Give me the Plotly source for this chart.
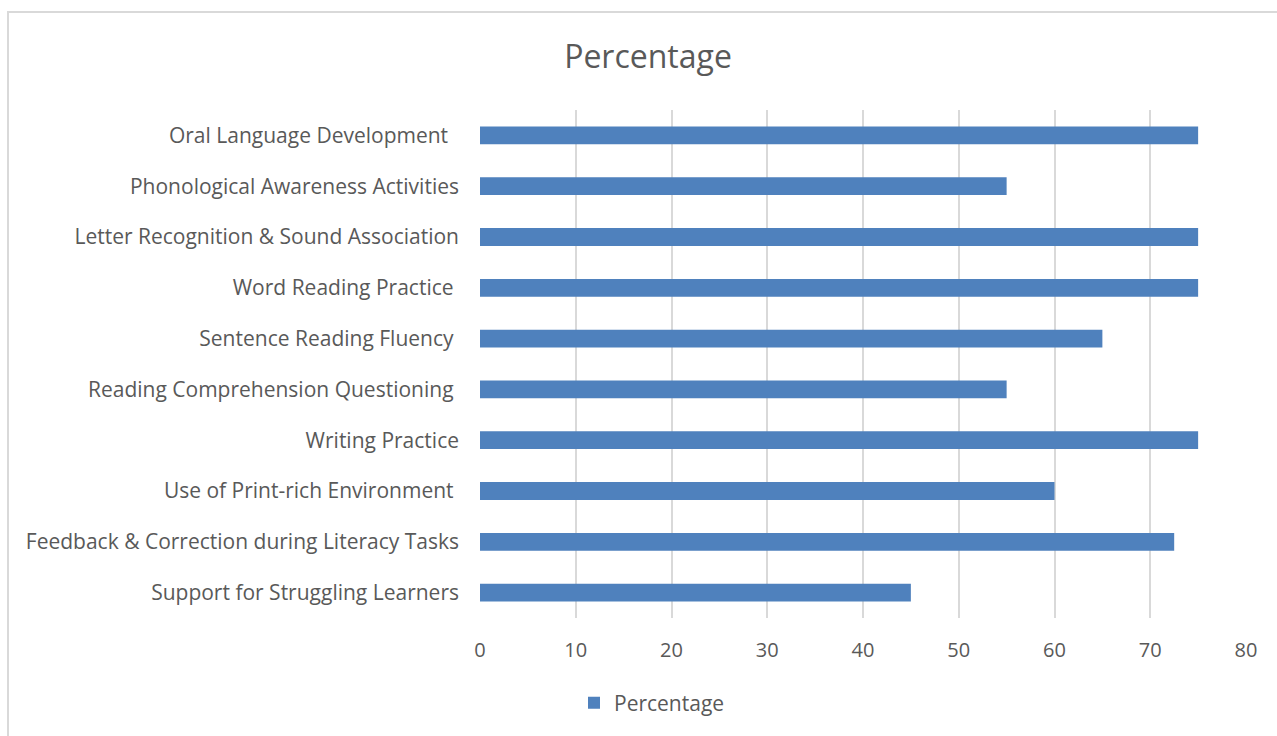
import plotly.graph_objects as go

categories = [
    "Oral Language Development\u00a0\u00a0",
    "Phonological Awareness Activities",
    "Letter Recognition & Sound Association",
    "Word Reading Practice\u00a0",
    "Sentence Reading Fluency\u00a0",
    "Reading Comprehension Questioning\u00a0",
    "Writing Practice",
    "Use of Print-rich Environment\u00a0",
    "Feedback & Correction during Literacy Tasks",
    "Support for Struggling Learners",
]
percentages = [75, 55, 75, 75, 65, 55, 75, 60, 72.5, 45]
x_ticks = [0, 10, 20, 30, 40, 50, 60, 70, 80]

FONT = "Open Sans"
GREY = "#595959"

fig = go.Figure()
fig.add_trace(go.Bar(
    y=categories, x=percentages, orientation="h", name="Percentage",
    marker=dict(color="#4f81bd", line=dict(width=0)), width=0.35,
    showlegend=True,
))

fig.update_layout(
    width=1277, height=736,
    margin=dict(l=480, r=31, t=110, b=118),
    paper_bgcolor="white", plot_bgcolor="white",
    title=dict(text="Percentage", x=648 / 1277, xanchor="center",
               y=1 - 57 / 736, yanchor="middle",
               font=dict(family=FONT, size=32, color=GREY)),
    font=dict(family=FONT, color=GREY),
    xaxis=dict(range=[0, 80], tickvals=x_ticks, showgrid=True, gridcolor="#d9d9d9", gridwidth=2,
               zeroline=False, showline=False, ticks="", ticklabelstandoff=18,
               tickfont=dict(family=FONT, size=20, color=GREY)),
    yaxis=dict(autorange="reversed", showgrid=False, zeroline=False, showline=False, ticks="",
               ticklabelstandoff=20, tickfont=dict(family=FONT, size=21, color=GREY)),
    legend=dict(orientation="h", x=(652 - 480) / 766, xanchor="center", y=-(703 - 618) / 508,
                yanchor="middle", itemwidth=30,
                font=dict(family=FONT, size=21, color=GREY)),
    bargap=0.65,
)

fig.add_shape(type="rect", xref="paper", yref="paper",
              x0=(8 - 480) / 766, x1=(1290 - 480) / 766,
              y0=(618 - 745) / 508, y1=(618 - 12) / 508,
              line=dict(color="#d9d9d9", width=2), fillcolor="rgba(0,0,0,0)", layer="below")

fig.write_html("out.html")
